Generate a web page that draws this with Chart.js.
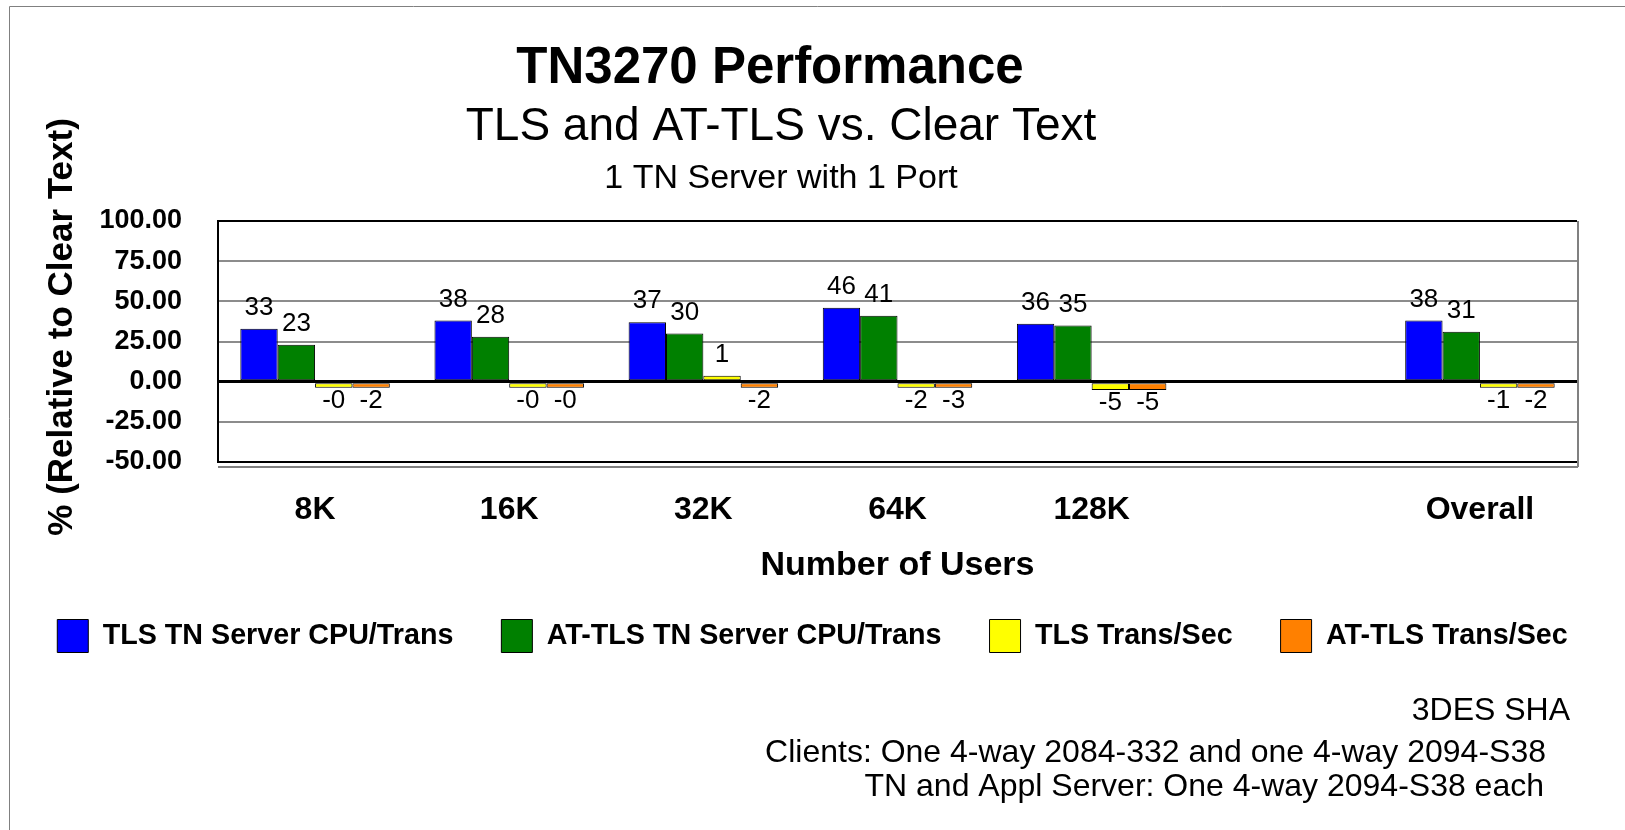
<!DOCTYPE html>
<html>
<head>
<meta charset="utf-8">
<title>TN3270 Performance</title>
<script src="https://cdn.jsdelivr.net/npm/chart.js@4.4.0/dist/chart.umd.min.js"></script>
<style>
  html, body { margin: 0; padding: 0; background: #fff; }
  #wrap { width: 1625px; height: 830px; }
</style>
</head>
<body>
<div id="wrap"><canvas id="grafico" width="1625" height="830"></canvas></div>
<script>
// TN3270 Performance - TLS e AT-TLS vs. Clear Text
const categorias = ['8K', '16K', '32K', '64K', '128K', '', 'Overall'];
const tlsCpuTrans = [33, 38, 37, 46, 36, null, 38];
const atTlsCpuTrans = [23, 28, 30, 41, 35, null, 31];
const tlsTransSec = [-0.4, -0.4, 0.6, -2.3, -5.2, null, -1.1];
const atTlsTransSec = [-2.3, -0.4, -1.7, -2.8, -5.2, null, -2.2];
const yTicks = [-50, -25, 0, 25, 50, 75, 100];

const titulos = ['TN3270 Performance', 'TLS and AT-TLS vs. Clear Text', '1 TN Server with 1 Port'];
const notas = ['3DES SHA', 'Clients: One 4-way 2084-332 and one 4-way 2094-S38', 'TN and Appl Server: One 4-way 2094-S38 each'];

const FONTE = 'Arial, "Liberation Sans", Helvetica, sans-serif';

// textos de cabecalho e notas, moldura externa
const textosPlugin = {
  id: 'textos',
  beforeDraw(chart) {
    const ctx = chart.ctx;
    ctx.save();
    ctx.fillStyle = '#fff';
    ctx.fillRect(0, 0, chart.width, chart.height);
    ctx.strokeStyle = '#808080';
    ctx.lineWidth = 1;
    ctx.beginPath();
    ctx.moveTo(9.5, chart.height);
    ctx.lineTo(9.5, 6.5);
    ctx.lineTo(chart.width, 6.5);
    ctx.stroke();
    ctx.restore();
  },
  afterDraw(chart) {
    const ctx = chart.ctx;
    ctx.save();
    ctx.fillStyle = '#000';
    ctx.textBaseline = 'alphabetic';
    ctx.textAlign = 'center';
    ctx.font = 'bold 51px ' + FONTE;
    ctx.fillText(titulos[0], 770, 83);
    ctx.font = '46px ' + FONTE;
    ctx.fillText(titulos[1], 781, 140);
    ctx.font = '34px ' + FONTE;
    ctx.fillText(titulos[2], 781, 188);

    ctx.textAlign = 'right';
    ctx.font = '32px ' + FONTE;
    ctx.fillText(notas[0], 1570, 720);
    ctx.fillText(notas[1], 1546, 762);
    ctx.fillText(notas[2], 1544, 796);
    ctx.restore();
  }
};

// borda direita e linha dupla inferior do grafico
const molduraPlugin = {
  id: 'moldura',
  beforeDatasetsDraw(chart) {
    const {ctx, chartArea} = chart;
    ctx.save();
    ctx.strokeStyle = '#808080';
    ctx.lineWidth = 2;
    ctx.beginPath();
    ctx.moveTo(chartArea.right + 1, chartArea.top);
    ctx.lineTo(chartArea.right + 1, chartArea.bottom + 5);
    ctx.moveTo(chartArea.left, chartArea.bottom + 5);
    ctx.lineTo(chartArea.right + 1, chartArea.bottom + 5);
    ctx.stroke();
    ctx.restore();
  }
};

// rotulos de valores sobre/sob as barras
const rotulosPlugin = {
  id: 'rotulos',
  afterDatasetsDraw(chart) {
    const ctx = chart.ctx;
    ctx.save();
    ctx.font = '26px ' + FONTE;
    ctx.fillStyle = '#000';
    ctx.textAlign = 'center';
    ctx.textBaseline = 'middle';
    chart.data.datasets.forEach((ds, i) => {
      const meta = chart.getDatasetMeta(i);
      meta.data.forEach((bar, j) => {
        const v = ds.data[j];
        if (v === null || v === undefined) return;
        const texto = (v < 0 ? '-' : '') + Math.round(Math.abs(v));
        if (v >= 0) {
          ctx.fillText(texto, bar.x, Math.min(bar.y, bar.base) - 21);
        } else {
          ctx.fillText(texto, bar.x, Math.max(bar.y, bar.base) + 13);
        }
      });
    });
    ctx.restore();
  }
};

function criarGrafico() {
  const ctx = document.getElementById('grafico').getContext('2d');

  new Chart(ctx, {
    type: 'bar',
    data: {
      labels: categorias,
      datasets: [
        { label: 'TLS TN Server CPU/Trans', data: tlsCpuTrans, backgroundColor: '#0000ff' },
        { label: 'AT-TLS TN Server CPU/Trans', data: atTlsCpuTrans, backgroundColor: '#008000' },
        { label: 'TLS Trans/Sec', data: tlsTransSec, backgroundColor: '#ffff00' },
        { label: 'AT-TLS Trans/Sec', data: atTlsTransSec, backgroundColor: '#ff8000' }
      ]
    },
    options: {
      responsive: false,
      animation: false,
      devicePixelRatio: 1,
      layout: {
        padding: { top: 221, left: 0, right: 0, bottom: 167.5 }
      },
      datasets: {
        bar: {
          borderColor: '#000',
          borderWidth: 1,
          borderSkipped: false,
          categoryPercentage: 0.77,
          barPercentage: 1,
          minBarLength: 6
        }
      },
      plugins: {
        title: { display: false },
        tooltip: { enabled: false },
        legend: {
          position: 'bottom',
          labels: {
            color: '#000',
            font: { family: FONTE, size: 28.7, weight: 'bold' },
            boxWidth: 31,
            boxHeight: 33,
            padding: 48
          }
        }
      },
      scales: {
        x: {
          grid: { display: false },
          border: { display: true, color: '#000', width: 2 },
          ticks: {
            color: '#000',
            padding: 21,
            font: { family: FONTE, size: 32, weight: 'bold' }
          },
          title: {
            display: true,
            text: 'Number of Users',
            color: '#000',
            font: { family: FONTE, size: 34, weight: 'bold' },
            padding: { top: 0, bottom: -14.5 }
          },
          afterFit(scale) { scale.height = 109.5; }
        },
        y: {
          min: -50,
          max: 100,
          afterBuildTicks(scale) { scale.ticks = yTicks.map(v => ({ value: v })); },
          grid: {
            drawTicks: false,
            color: c => (c.tick && (c.tick.value === 0 || c.tick.value === 100)) ? '#000' : '#8c8c8c',
            lineWidth: c => (c.tick && c.tick.value === 0) ? 3 : 2
          },
          border: { display: true, color: '#000', width: 2 },
          ticks: {
            color: '#000',
            padding: 36,
            autoSkip: false,
            font: { family: FONTE, size: 27, weight: 'bold' },
            callback: v => v.toFixed(2)
          },
          title: {
            display: true,
            text: '   % (Relative to Clear Text)',
            color: '#000',
            font: { family: FONTE, size: 35, weight: 'bold' },
            padding: { top: 41, bottom: 0 }
          },
          afterFit(scale) { scale.width = 218; }
        },
        // margem direita do grafico (eixo vazio)
        margemDireita: {
          type: 'linear',
          position: 'right',
          display: true,
          grid: { display: false, drawTicks: false },
          border: { display: false },
          ticks: { display: false },
          afterFit(scale) { scale.width = 48; }
        }
      }
    },
    plugins: [textosPlugin, molduraPlugin, rotulosPlugin]
  });
}

document.addEventListener('DOMContentLoaded', criarGrafico);
</script>
</body>
</html>
